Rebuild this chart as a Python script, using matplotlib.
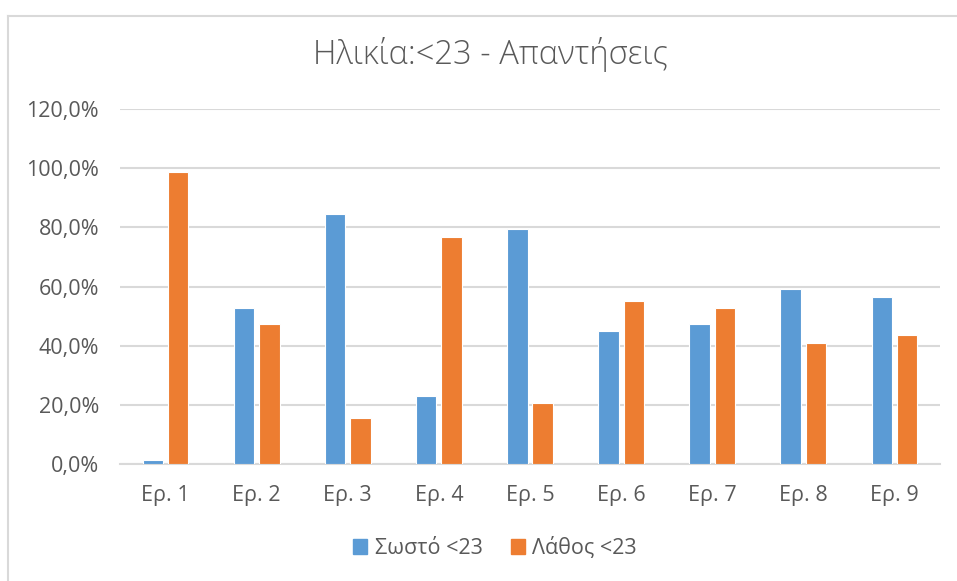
import matplotlib

matplotlib.use("Agg")
import matplotlib.pyplot as plt
import numpy as np
from matplotlib.lines import Line2D
from matplotlib.patches import Patch
from matplotlib.ticker import FuncFormatter

plt.rcParams["font.family"] = ["Open Sans", "DejaVu Sans"]

categories = ["Ερ. 1", "Ερ. 2", "Ερ. 3", "Ερ. 4", "Ερ. 5", "Ερ. 6", "Ερ. 7", "Ερ. 8", "Ερ. 9"]
correct = [1.2, 52.6, 84.6, 23.1, 79.5, 44.9, 47.4, 59.0, 56.4]
wrong = [98.8, 47.4, 15.4, 76.9, 20.5, 55.1, 52.6, 41.0, 43.6]
series_names = ["Σωστό <23", "Λάθος <23"]
title = "Ηλικία:<23 - Απαντήσεις"

BLUE = "#5B9BD5"
ORANGE = "#ED7D31"
GREY_TXT = "#595959"
GRID = "#D9D9D9"

fig = plt.figure(figsize=(9.57, 5.81), dpi=100)
ax = fig.add_axes([120 / 957, 1 - 464 / 581, 820 / 957, 355 / 581])

x = np.arange(len(categories))
w = 0.224
off = 0.139
ax.bar(x - off, correct, w, color=BLUE, edgecolor="white", linewidth=0.8, zorder=3)
ax.bar(x + off, wrong, w, color=ORANGE, edgecolor="white", linewidth=0.8, zorder=3)

ax.set_xlim(-0.5, len(categories) - 0.5)
ax.set_ylim(0, 120)
ax.set_yticks(np.arange(0, 121, 20))
ax.yaxis.set_major_formatter(FuncFormatter(lambda v, _: f"{v:.1f}%".replace(".", ",")))
ax.set_xticks(x)
ax.set_xticklabels(categories)

ax.grid(axis="y", color=GRID, linewidth=1.5, zorder=0)
for s in ["top", "right", "left"]:
    ax.spines[s].set_visible(False)
ax.spines["bottom"].set_color(GRID)
ax.spines["bottom"].set_linewidth(1.5)
ax.tick_params(axis="both", length=0, labelsize=15.5, labelcolor=GREY_TXT)
ax.tick_params(axis="x", pad=15)
ax.tick_params(axis="y", pad=15)

fig.text(490 / 957, 1 - 55 / 581, title, ha="center", va="center", fontsize=23.5,
         fontweight="light", color=GREY_TXT)

handles = [Patch(color=BLUE), Patch(color=ORANGE)]
fig.legend(handles, series_names, loc="center", bbox_to_anchor=(495 / 957, 1 - 548 / 581), ncol=2,
           frameon=False, fontsize=15.5, labelcolor=GREY_TXT, handlelength=0.65, handleheight=0.65,
           handletextpad=0.35, columnspacing=1.3)

# chart border (left and top edges visible)
fig.add_artist(Line2D([8 / 957, 8 / 957], [0, 1 - 16 / 581], transform=fig.transFigure, color=GRID, linewidth=1.5))
fig.add_artist(Line2D([8 / 957, 1], [1 - 16 / 581, 1 - 16 / 581], transform=fig.transFigure, color=GRID, linewidth=1.5))

fig.savefig("out.png", dpi=100)
